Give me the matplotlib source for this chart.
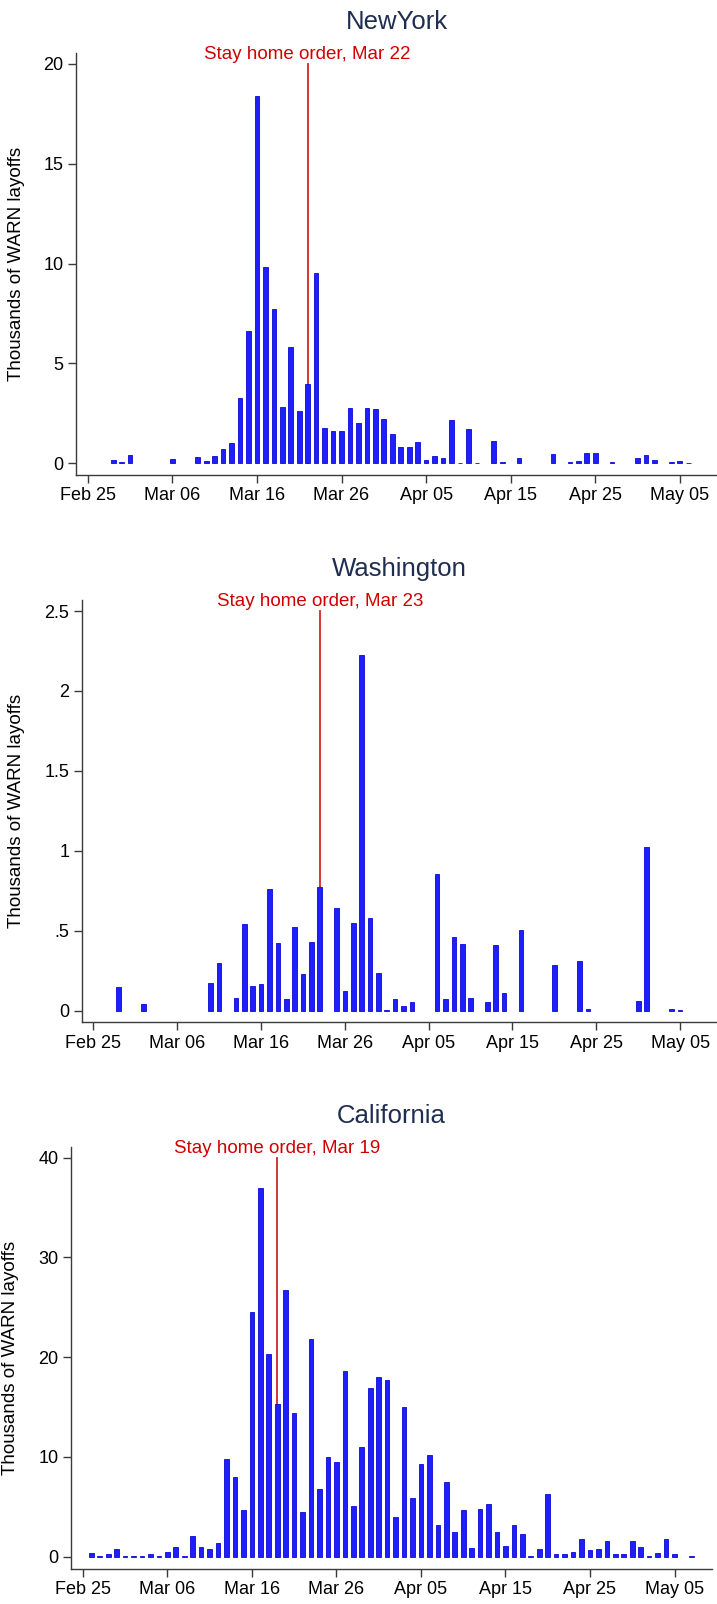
import numpy as np
import pandas as pd
import matplotlib
matplotlib.use('Agg')
import matplotlib.pyplot as plt
import matplotlib.dates as mdates

plt.rcParams['font.family'] = ['Liberation Sans', 'DejaVu Sans']

# --- data: thousands of WARN layoffs by day (2020) ---
ny_dates = ["02-28", "02-29", "03-01", "03-06", "03-09", "03-10", "03-11", "03-12",
            "03-13", "03-14", "03-15", "03-16", "03-17", "03-18", "03-19", "03-20",
            "03-21", "03-22", "03-23", "03-24", "03-25", "03-26", "03-27", "03-28",
            "03-29", "03-30", "03-31", "04-01", "04-02", "04-03", "04-04", "04-05",
            "04-06", "04-07", "04-08", "04-09", "04-10", "04-11", "04-13", "04-14",
            "04-16", "04-20", "04-22", "04-23", "04-24", "04-25", "04-27", "04-30",
            "05-01", "05-02", "05-04", "05-05", "05-06"]
ny_vals = [0.17, 0.08, 0.43, 0.22, 0.33, 0.12, 0.37, 0.72,
           1.02, 3.27, 6.61, 18.4, 9.83, 7.73, 2.82, 5.83,
           2.6, 3.97, 9.53, 1.77, 1.62, 1.62, 2.77, 2.02,
           2.77, 2.72, 2.22, 1.47, 0.82, 0.82, 1.07, 0.17,
           0.37, 0.27, 2.17, 0.03, 1.72, 0.02, 1.12, 0.07,
           0.27, 0.47, 0.07, 0.12, 0.52, 0.52, 0.07, 0.27,
           0.42, 0.17, 0.07, 0.12, 0.03]

wa_dates = ["02-28", "03-02", "03-10", "03-11", "03-13", "03-14", "03-15", "03-16",
            "03-17", "03-18", "03-19", "03-20", "03-21", "03-22", "03-23", "03-25",
            "03-26", "03-27", "03-28", "03-29", "03-30", "03-31", "04-01", "04-02",
            "04-03", "04-06", "04-07", "04-08", "04-09", "04-10", "04-12", "04-13",
            "04-14", "04-16", "04-20", "04-23", "04-24", "04-30", "05-01", "05-04",
            "05-05"]
wa_vals = [0.146, 0.042, 0.171, 0.296, 0.077, 0.542, 0.154, 0.167,
           0.761, 0.423, 0.071, 0.523, 0.229, 0.43, 0.774, 0.642,
           0.123, 0.548, 2.225, 0.58, 0.236, 0.006, 0.073, 0.03,
           0.054, 0.855, 0.073, 0.461, 0.417, 0.079, 0.054, 0.41,
           0.11, 0.505, 0.286, 0.31, 0.01, 0.06, 1.024, 0.01,
           0.006]

ca_dates = ["02-26", "02-27", "02-28", "02-29", "03-01", "03-02", "03-03", "03-04",
            "03-05", "03-06", "03-07", "03-08", "03-09", "03-10", "03-11", "03-12",
            "03-13", "03-14", "03-15", "03-16", "03-17", "03-18", "03-19", "03-20",
            "03-21", "03-22", "03-23", "03-24", "03-25", "03-26", "03-27", "03-28",
            "03-29", "03-30", "03-31", "04-01", "04-02", "04-03", "04-04", "04-05",
            "04-06", "04-07", "04-08", "04-09", "04-10", "04-11", "04-12", "04-13",
            "04-14", "04-15", "04-16", "04-17", "04-18", "04-19", "04-20", "04-21",
            "04-22", "04-23", "04-24", "04-25", "04-26", "04-27", "04-28", "04-29",
            "04-30", "05-01", "05-02", "05-03", "05-04", "05-05", "05-07"]
ca_vals = [0.4, 0.07, 0.23, 0.8, 0.07, 0.07, 0.1, 0.23,
           0.07, 0.47, 0.97, 0.07, 2.07, 0.97, 0.73, 1.4,
           9.76, 7.95, 4.64, 24.5, 36.95, 20.28, 15.27, 26.7,
           14.4, 4.48, 21.78, 6.78, 9.99, 9.49, 18.58, 5.08,
           10.99, 16.87, 17.98, 17.67, 3.98, 14.97, 5.88, 9.29,
           10.19, 3.17, 7.48, 2.47, 4.68, 0.87, 4.78, 5.28,
           2.47, 1.1, 3.14, 2.3, 0.1, 0.8, 6.28, 0.3,
           0.3, 0.47, 1.77, 0.67, 0.73, 1.6, 0.3, 0.23,
           1.6, 1.0, 0.1, 0.4, 1.8, 0.3, 0.1]

states = ["NewYork", "Washington", "California"]
order_dates = ["03-22", "03-23", "03-19"]
y_ticks = [[0, 5, 10, 15, 20], [0, 0.5, 1, 1.5, 2, 2.5], [0, 10, 20, 30, 40]]
y_ticklabels = [["0", "5", "10", "15", "20"], ["0", ".5", "1", "1.5", "2", "2.5"],
                ["0", "10", "20", "30", "40"]]
y_limits = [(-0.586, 20.55), (-0.0726, 2.569), (-1.2, 41.1)]

# axes boxes in pixels: left, right, top, bottom
boxes = [(76, 717, 53, 475), (81.7, 717, 600, 1022.3), (71, 711.7, 1146.7, 1568.7)]
ylabel_x = [25, 25, 19]

W, H = 717, 1604
BAR = '#1e1eff'
BAR_EDGE = '#0a0ad2'
RED_LINE = '#d42424'
RED_TEXT = '#d00000'
NAVY = '#1f2d50'
AXC = '#3a3a3a'

fig = plt.figure(figsize=(W / 100, H / 100), dpi=100)

base = pd.Timestamp("2020-02-25")
xlim = (base - pd.Timedelta(days=1.4), base + pd.Timedelta(days=74.4))
xticks = pd.date_range("2020-02-25", "2020-05-05", freq="10D")

series = [(ny_dates, ny_vals), (wa_dates, wa_vals), (ca_dates, ca_vals)]

for i, name in enumerate(states):
    l, r, t, b = boxes[i]
    ax = fig.add_axes([l / W, 1 - b / H, (r - l) / W, (b - t) / H])
    dts, vals = series[i]
    x = pd.to_datetime(["2020-" + d for d in dts])
    ax.bar(x, vals, width=0.55, color=BAR, edgecolor=BAR_EDGE, linewidth=0.6, zorder=3)

    od = pd.Timestamp("2020-" + order_dates[i])
    ytop = y_ticks[i][-1]
    ax.plot([od, od], [0, ytop], color=RED_LINE, linewidth=1.3, zorder=2)
    ax.annotate("Stay home order, " + od.strftime("%b %d").replace(" 0", " "),
                xy=(od, ytop), xytext=(0, 3.5), textcoords='offset points',
                ha='center', va='baseline', color=RED_TEXT, fontsize=13.5)

    ax.set_xlim(xlim)
    ax.set_ylim(y_limits[i])
    ax.set_xticks(xticks)
    ax.xaxis.set_major_formatter(mdates.DateFormatter("%b %d"))
    ax.set_yticks(y_ticks[i])
    ax.set_yticklabels(y_ticklabels[i])

    for s in ['top', 'right']:
        ax.spines[s].set_visible(False)
    for s in ['left', 'bottom']:
        ax.spines[s].set_color(AXC)
        ax.spines[s].set_linewidth(1.0)
    ax.tick_params(axis='both', direction='out', length=5.5, width=1.0, color=AXC,
                   labelsize=13, labelcolor='black', pad=3.5)

    ax.set_ylabel("Thousands of WARN layoffs", fontsize=13.5)
    ax.yaxis.set_label_coords((ylabel_x[i] - l) / (r - l), 0.5)

    ax.annotate(name, xy=(0.5, 1), xycoords='axes fraction', xytext=(0, 17),
                textcoords='offset points', ha='center', va='baseline',
                color=NAVY, fontsize=18.5)

fig.savefig("out.png", dpi=100)
